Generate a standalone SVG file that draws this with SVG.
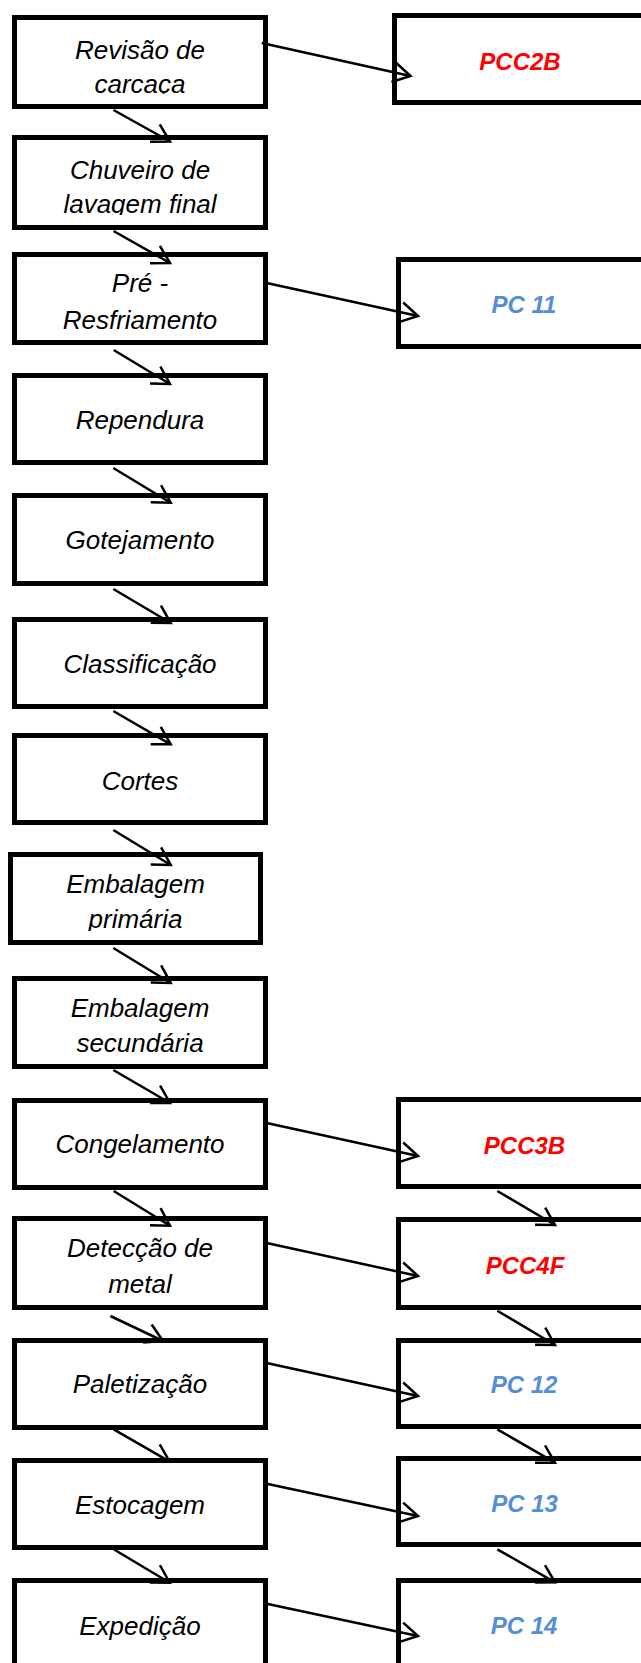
<svg xmlns="http://www.w3.org/2000/svg" width="641" height="1663" viewBox="0 0 641 1663">
<style>
.box{fill:#fff;stroke:#000;stroke-width:5}
.t{font-family:"Liberation Sans",Arial,sans-serif;font-style:italic;font-size:26px;fill:#000;text-anchor:middle}
.r{font-family:"Liberation Sans",Arial,sans-serif;font-style:italic;font-weight:bold;font-size:24px;text-anchor:middle}
.red{fill:#FF0000}
.blue{fill:#558ED5}
.c{fill:none;stroke:#000;stroke-width:2.5;marker-end:url(#ah)}
</style>
<defs>
<marker id="ah" markerUnits="userSpaceOnUse" markerWidth="30" markerHeight="30" viewBox="-25 -15 30 30" refX="0" refY="0" orient="auto">
<path d="M-17.3,-10 L0,0 L-17.3,10" fill="none" stroke="#000" stroke-width="2.5"/>
</marker>
<clipPath id="cl1"><rect x="17" y="20" width="246" height="74"/></clipPath>
<clipPath id="cl2"><rect x="17" y="140" width="246" height="75"/></clipPath>
<clipPath id="cl8"><rect x="13" y="857" width="245" height="74"/></clipPath>
</defs>
<rect x="0" y="0" width="641" height="1663" fill="#fff"/>
<g id="n1"><rect class="box" x="14.5" y="17.5" width="251" height="89"/><g clip-path="url(#cl1)"><text class="t" x="140" y="58.5">Revisão de</text><text class="t" x="140" y="92.5">carcaça</text></g></g>
<g id="n2"><rect class="box" x="14.5" y="137.5" width="251" height="90"/><g clip-path="url(#cl2)"><text class="t" x="140" y="178.5">Chuveiro de</text><text class="t" x="140" y="212.5">lavagem final</text></g></g>
<g id="n3"><rect class="box" x="14.5" y="254.5" width="251" height="88"/><text class="t" x="140" y="292">Pré -</text><text class="t" x="140" y="328.5">Resfriamento</text></g>
<g id="n4"><rect class="box" x="14.5" y="375.5" width="251" height="87"/><text class="t" x="140" y="429">Rependura</text></g>
<g id="n5"><rect class="box" x="14.5" y="495.5" width="251" height="88"/><text class="t" x="140" y="549">Gotejamento</text></g>
<g id="n6"><rect class="box" x="14.5" y="619.5" width="251" height="87"/><text class="t" x="140" y="673">Classificação</text></g>
<g id="n7"><rect class="box" x="14.5" y="735.5" width="251" height="87"/><text class="t" x="140" y="790">Cortes</text></g>
<g id="n8"><rect class="box" x="10.5" y="854.5" width="250" height="88"/><g clip-path="url(#cl8)"><text class="t" x="135.5" y="893">Embalagem</text><text class="t" x="135.5" y="928">primária</text></g></g>
<g id="n9"><rect class="box" x="14.5" y="978.5" width="251" height="88"/><text class="t" x="140" y="1017">Embalagem</text><text class="t" x="140" y="1052">secundária</text></g>
<g id="n10"><rect class="box" x="14.5" y="1100.5" width="251" height="87"/><text class="t" x="140" y="1153">Congelamento</text></g>
<g id="n11"><rect class="box" x="14.5" y="1218.5" width="251" height="89"/><text class="t" x="140" y="1257">Detecção de</text><text class="t" x="140" y="1293">metal</text></g>
<g id="n12"><rect class="box" x="14.5" y="1340.5" width="251" height="87"/><text class="t" x="140" y="1393">Paletização</text></g>
<g id="n13"><rect class="box" x="14.5" y="1460.5" width="251" height="87"/><text class="t" x="140" y="1514">Estocagem</text></g>
<g id="n14"><rect class="box" x="14.5" y="1580.5" width="251" height="100"/><text class="t" x="140" y="1635">Expedição</text></g>
<g id="p1"><rect class="box" x="394.5" y="15.5" width="260" height="87"/><text class="r red" x="520" y="70">PCC2B</text></g>
<g id="p2"><rect class="box" x="398.5" y="259.5" width="260" height="87"/><text class="r blue" x="524" y="313">PC 11</text></g>
<g id="p3"><rect class="box" x="398.5" y="1099.5" width="260" height="87"/><text class="r red" x="524.5" y="1154">PCC3B</text></g>
<g id="p4"><rect class="box" x="398.5" y="1219.5" width="260" height="88"/><text class="r red" x="525" y="1274">PCC4F</text></g>
<g id="p5"><rect class="box" x="398.5" y="1340.5" width="260" height="86"/><text class="r blue" x="524" y="1393">PC 12</text></g>
<g id="p6"><rect class="box" x="398.5" y="1458.5" width="260" height="86"/><text class="r blue" x="524.5" y="1511.5">PC 13</text></g>
<g id="p7"><rect class="box" x="398.5" y="1580.5" width="260" height="100"/><text class="r blue" x="524" y="1634">PC 14</text></g>
<g id="connectors">
<path class="c" d="M113.5,110 L170,141.5"/>
<path class="c" d="M113.5,231 L170,263"/>
<path class="c" d="M113.7,350 L170,384"/>
<path class="c" d="M113.3,468 L170.7,502.7"/>
<path class="c" d="M113.3,589 L170.7,623"/>
<path class="c" d="M113.3,711 L170.7,744.3"/>
<path class="c" d="M113.3,830 L170.7,865"/>
<path class="c" d="M113.3,948 L170.7,983"/>
<path class="c" d="M113.3,1070 L170,1103"/>
<path class="c" d="M113.7,1191 L170,1225.7"/>
<path class="c" d="M110.4,1316 L163,1341"/>
<path class="c" d="M113.7,1429.3 L169.7,1461.7"/>
<path class="c" d="M113.7,1549.3 L169.7,1582.7"/>
<path class="c" d="M497.3,1191 L555,1225"/>
<path class="c" d="M497.3,1310.7 L555,1345"/>
<path class="c" d="M497.3,1429.3 L555,1462.7"/>
<path class="c" d="M497.3,1549.3 L555,1582.3"/>
<path class="c" d="M261.7,43 L410.5,76"/>
<path class="c" d="M267.8,283.3 L418,316"/>
<path class="c" d="M267.8,1123.3 L418,1156"/>
<path class="c" d="M267.8,1243.3 L418,1276"/>
<path class="c" d="M267.8,1363.3 L418,1396"/>
<path class="c" d="M267.8,1484 L418,1516"/>
<path class="c" d="M267.8,1604 L418,1636"/>
</g>
</svg>
